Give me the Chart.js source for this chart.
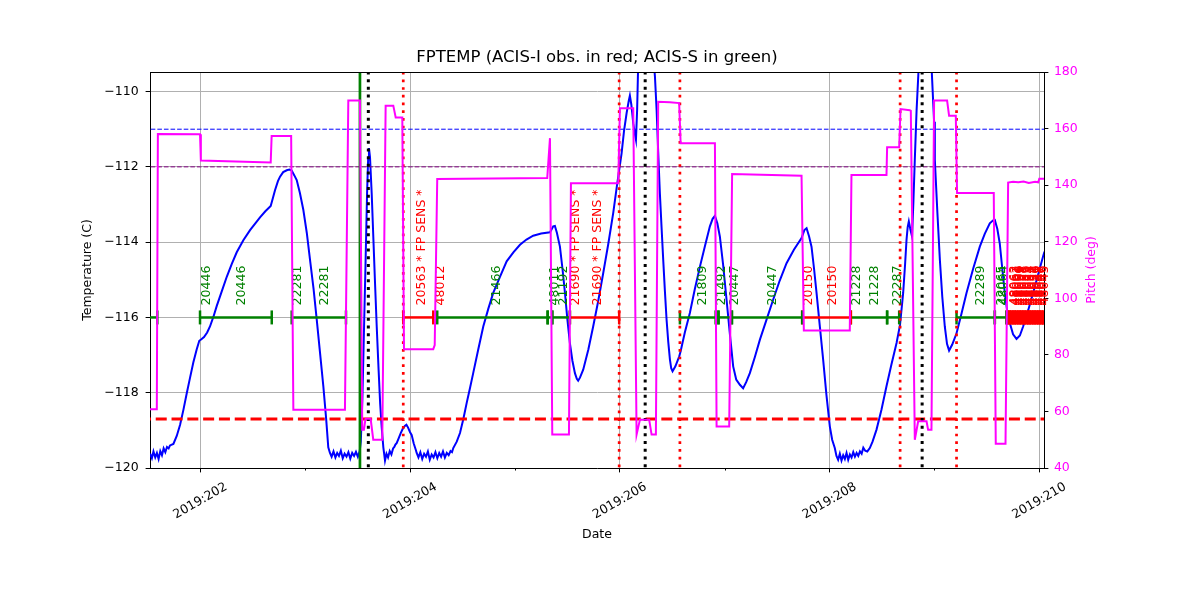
<!DOCTYPE html>
<html>
<head>
<meta charset="utf-8">
<title>FPTEMP</title>
<script src="https://cdn.jsdelivr.net/npm/chart.js@4.4.0/dist/chart.umd.min.js"></script>
<style>
  html, body { margin: 0; padding: 0; background: #fff; }
</style>
</head>
<body>
<canvas id="fptemp" width="1200" height="600"></canvas>
<script>
// time axis in day-of-year 2019
var xMin = 201.520, xMax = 210.045;
var tempMin = -120, tempMax = -109.48;
var pitchMin = 40, pitchMax = 180;
var obsLevel = -116;

// FPTEMP (C)
var tempSeries = [
    [201.521,-119.62],[201.538,-119.74],[201.553,-119.56],[201.570,-119.72],[201.586,-119.60],
    [201.602,-119.76],[201.618,-119.55],[201.634,-119.66],[201.650,-119.48],[201.666,-119.58],
    [201.682,-119.44],[201.698,-119.48],[201.711,-119.40],[201.743,-119.36],[201.775,-119.15],
    [201.807,-118.85],[201.839,-118.45],[201.870,-118.02],[201.902,-117.60],[201.933,-117.20],
    [201.965,-116.85],[201.990,-116.62],[202.010,-116.58],[202.035,-116.52],[202.065,-116.40],
    [202.092,-116.24],[202.125,-115.98],[202.156,-115.70],[202.205,-115.30],[202.252,-114.92],
    [202.300,-114.58],[202.347,-114.27],[202.410,-113.95],[202.474,-113.68],[202.530,-113.48],
    [202.569,-113.34],[202.620,-113.18],[202.671,-113.04],[202.690,-112.85],[202.712,-112.62],
    [202.740,-112.38],[202.760,-112.26],[202.790,-112.14],[202.824,-112.09],[202.850,-112.07],
    [202.871,-112.10],[202.895,-112.22],[202.919,-112.35],[202.950,-112.70],[202.982,-113.14],
    [203.015,-113.75],[203.046,-114.47],[203.080,-115.25],[203.110,-116.06],[203.140,-116.90],
    [203.173,-117.83],[203.200,-118.70],[203.220,-119.45],[203.236,-119.60],[203.252,-119.70],
    [203.270,-119.56],[203.288,-119.72],[203.305,-119.60],[203.322,-119.68],[203.340,-119.54],
    [203.358,-119.74],[203.376,-119.62],[203.394,-119.70],[203.412,-119.58],[203.430,-119.75],
    [203.448,-119.60],[203.466,-119.68],[203.484,-119.57],[203.502,-119.70],[203.520,-119.55],
    [203.530,-119.30],[203.545,-118.20],[203.560,-116.40],[203.575,-114.60],[203.590,-112.70],
    [203.600,-111.80],[203.608,-111.50],[203.618,-111.75],[203.634,-112.70],[203.650,-113.90],
    [203.666,-115.10],[203.682,-116.24],[203.700,-117.40],[203.715,-118.30],[203.729,-118.90],
    [203.745,-119.45],[203.761,-119.80],[203.775,-119.62],[203.790,-119.72],[203.806,-119.55],
    [203.822,-119.64],[203.838,-119.48],[203.850,-119.44],[203.860,-119.38],[203.872,-119.34],
    [203.890,-119.22],[203.910,-119.08],[203.930,-118.96],[203.950,-118.88],[203.965,-118.85],
    [203.980,-118.92],[204.000,-119.05],[204.015,-119.12],[204.035,-119.35],[204.055,-119.52],
    [204.063,-119.60],[204.080,-119.72],[204.098,-119.58],[204.116,-119.76],[204.134,-119.62],
    [204.152,-119.70],[204.170,-119.56],[204.188,-119.78],[204.206,-119.64],[204.224,-119.72],
    [204.242,-119.58],[204.260,-119.74],[204.278,-119.60],[204.296,-119.70],[204.314,-119.56],
    [204.332,-119.72],[204.350,-119.60],[204.368,-119.66],[204.386,-119.55],[204.400,-119.58],
    [204.412,-119.47],[204.445,-119.30],[204.476,-119.07],[204.508,-118.70],[204.540,-118.27],
    [204.571,-117.88],[204.602,-117.48],[204.650,-116.85],[204.698,-116.24],[204.745,-115.78],
    [204.793,-115.35],[204.860,-114.90],[204.921,-114.51],[204.985,-114.27],[205.048,-114.07],
    [205.110,-113.93],[205.174,-113.83],[205.250,-113.77],[205.334,-113.74],[205.350,-113.66],
    [205.365,-113.58],[205.381,-113.57],[205.400,-113.75],[205.429,-114.12],[205.453,-114.70],
    [205.477,-115.35],[205.500,-116.05],[205.524,-116.68],[205.548,-117.15],[205.572,-117.48],
    [205.590,-117.63],[205.603,-117.68],[205.620,-117.60],[205.651,-117.39],[205.700,-116.85],
    [205.746,-116.24],[205.795,-115.55],[205.842,-114.82],[205.890,-114.05],[205.937,-113.23],
    [205.975,-112.45],[206.017,-111.64],[206.040,-111.05],[206.065,-110.57],[206.085,-110.25],
    [206.096,-110.11],[206.110,-110.35],[206.128,-110.84],[206.142,-111.10],[206.154,-111.28],
    [206.165,-110.50],[206.175,-109.30],[206.190,-108.60],[206.215,-108.20],[206.260,-108.20],
    [206.310,-108.70],[206.335,-109.60],[206.351,-110.49],[206.366,-111.60],[206.382,-112.70],
    [206.398,-113.60],[206.414,-114.47],[206.430,-115.30],[206.446,-116.06],[206.462,-116.65],
    [206.478,-117.12],[206.490,-117.35],[206.503,-117.43],[206.530,-117.30],[206.566,-117.04],
    [206.580,-116.90],[206.620,-116.40],[206.668,-115.88],[206.715,-115.25],[206.764,-114.65],
    [206.812,-114.10],[206.859,-113.58],[206.885,-113.38],[206.907,-113.30],[206.930,-113.50],
    [206.954,-113.85],[206.985,-114.60],[207.018,-115.53],[207.050,-116.45],[207.081,-117.30],
    [207.110,-117.65],[207.145,-117.79],[207.176,-117.88],[207.205,-117.72],[207.240,-117.48],
    [207.288,-117.05],[207.336,-116.59],[207.400,-116.05],[207.462,-115.53],[207.525,-115.02],
    [207.590,-114.56],[207.660,-114.20],[207.733,-113.89],[207.760,-113.68],[207.781,-113.63],
    [207.805,-113.85],[207.828,-114.12],[207.852,-114.70],[207.876,-115.35],[207.908,-116.25],
    [207.939,-117.12],[207.970,-118.05],[208.003,-118.90],[208.025,-119.25],[208.050,-119.47],
    [208.066,-119.68],[208.082,-119.78],[208.098,-119.62],[208.114,-119.80],[208.130,-119.66],
    [208.146,-119.76],[208.162,-119.60],[208.178,-119.78],[208.194,-119.64],[208.210,-119.72],
    [208.226,-119.58],[208.242,-119.70],[208.258,-119.60],[208.274,-119.68],[208.290,-119.56],
    [208.306,-119.62],[208.322,-119.46],[208.340,-119.54],[208.360,-119.56],[208.384,-119.47],
    [208.410,-119.30],[208.448,-118.98],[208.495,-118.45],[208.543,-117.83],[208.590,-117.25],
    [208.639,-116.68],[208.672,-116.20],[208.702,-115.35],[208.720,-114.60],[208.734,-113.94],
    [208.745,-113.60],[208.756,-113.45],[208.770,-113.65],[208.787,-113.85],[208.800,-112.90],
    [208.813,-111.81],[208.830,-110.50],[208.851,-109.30],[208.880,-108.20],[208.930,-108.20],
    [208.972,-109.30],[208.997,-110.80],[209.004,-111.81],[209.028,-113.20],[209.052,-114.47],
    [209.075,-115.45],[209.099,-116.24],[209.120,-116.70],[209.140,-116.88],[209.170,-116.72],
    [209.211,-116.42],[209.258,-115.90],[209.306,-115.35],[209.370,-114.70],[209.433,-114.12],
    [209.480,-113.78],[209.528,-113.50],[209.560,-113.42],[209.576,-113.41],[209.600,-113.65],
    [209.623,-114.03],[209.647,-114.70],[209.671,-115.35],[209.695,-115.85],[209.719,-116.15],
    [209.750,-116.45],[209.783,-116.57],[209.815,-116.48],[209.846,-116.24],[209.895,-115.80],
    [209.941,-115.35],[209.990,-114.85],[210.036,-114.38],[210.050,-114.25]
];

// pitch (deg)
var pitchSeries = [
    [201.520,60.8],[201.585,60.8],[201.595,158.1],[201.997,158.0],[202.005,148.7],
    [202.671,148.0],[202.680,157.4],[202.866,157.4],[202.887,60.6],[203.379,60.6],
    [203.411,169.9],[203.522,169.9],[203.544,53.5],[203.560,53.5],[203.575,57.4],
    [203.624,57.4],[203.649,50.0],[203.735,50.0],[203.767,168.1],[203.840,168.1],
    [203.863,163.9],[203.926,163.9],[203.942,82.0],[204.221,82.0],[204.235,83.5],
    [204.259,142.2],[205.308,142.5],[205.334,156.6],[205.356,51.8],[205.515,51.8],
    [205.534,140.7],[205.985,140.7],[206.001,167.2],[206.128,167.2],[206.160,51.8],
    [206.192,57.1],[206.280,57.1],[206.303,51.8],[206.344,51.8],[206.366,169.5],
    [206.478,169.3],[206.566,169.0],[206.580,154.8],[206.907,154.8],[206.923,54.7],
    [207.043,54.7],[207.071,143.9],[207.733,143.3],[207.755,88.6],[208.193,88.6],
    [208.209,143.6],[208.543,143.6],[208.549,153.4],[208.664,153.4],[208.677,166.9],
    [208.765,166.5],[208.775,166.3],[208.813,50.0],[208.845,56.5],[208.925,56.5],
    [208.940,53.5],[208.972,53.5],[208.997,169.9],[209.121,169.9],[209.140,164.5],
    [209.204,164.5],[209.216,137.2],[209.566,137.2],[209.585,48.6],[209.678,48.6],
    [209.703,140.9],[209.750,141.2],[209.800,141.0],[209.850,141.3],[209.900,140.8],
    [209.960,141.2],[209.990,141.0],[210.000,142.3],[210.050,142.3]
];

// FPTEMP limit lines (C)
var planningLimit = -111;
var yellowLimit = -112;
var coldLimit = -118.7;

// vertical event markers (day of year)
var loadStartDays = [203.522];
var perigeeDays = [203.602, 206.242, 208.883];
var radZoneDays = [203.935, 205.994, 206.573, 208.673, 209.211];

// observations: instrument, start, stop
var observations = [
    ['S', 201.450, 201.590], ['S', 201.997, 202.681], ['S', 202.871, 203.389],
    ['I', 203.935, 204.221], ['S', 204.259, 205.312], ['S', 205.312, 205.356],
    ['S', 205.356, 205.524], ['I', 205.524, 205.994], ['S', 206.573, 206.916],
    ['S', 206.916, 206.941], ['S', 206.941, 207.069], ['S', 207.069, 207.739],
    ['I', 207.739, 208.203], ['S', 208.203, 208.549], ['S', 208.549, 208.664],
    ['S', 209.211, 209.576], ['S', 209.576, 209.687],
    ['I', 209.687, 209.703], ['I', 209.703, 209.718], ['I', 209.718, 209.734],
    ['I', 209.734, 209.751], ['I', 209.751, 209.766], ['I', 209.766, 209.782],
    ['I', 209.782, 209.799], ['I', 209.799, 209.815], ['I', 209.815, 209.830],
    ['I', 209.830, 209.846], ['I', 209.846, 209.862], ['I', 209.862, 209.879],
    ['I', 209.879, 209.895], ['I', 209.895, 209.910], ['I', 209.910, 209.926],
    ['I', 209.926, 209.943], ['I', 209.943, 209.958], ['I', 209.958, 209.974],
    ['I', 209.974, 209.990], ['I', 209.990, 210.006], ['I', 210.006, 210.022],
    ['I', 210.022, 210.038], ['I', 210.038, 210.055]
];

// obsid labels: day, text, instrument
var obsLabels = [
    [202.000, '20446', 'S'], [202.335, '20446', 'S'], [202.871, '22281', 'S'],
    [203.131, '22281', 'S'], [204.051, '20563 * FP SENS *', 'I'], [204.233, '48012', 'I'],
    [204.771, '21466', 'S'], [205.324, '48011', 'S'], [205.410, '21192', 'S'],
    [205.524, '21690 * FP SENS *', 'I'], [205.734, '21690 * FP SENS *', 'I'],
    [206.730, '21809', 'S'], [206.911, '21492', 'S'], [207.040, '20447', 'S'],
    [207.402, '20447', 'S'], [207.739, '20150', 'I'], [207.974, '20150', 'I'],
    [208.198, '21228', 'S'], [208.375, '21228', 'S'], [208.594, '22287', 'S'],
    [209.380, '22289', 'S'], [209.581, '22065', 'S'], [209.600, '48064', 'S'],
    [209.703, '48063', 'I'], [209.718, '48062', 'I'], [209.734, '48061', 'I'],
    [209.751, '48060', 'I'], [209.766, '48059', 'I'], [209.782, '48058', 'I'],
    [209.799, '48057', 'I'], [209.815, '48056', 'I'], [209.830, '48055', 'I'],
    [209.846, '48054', 'I'], [209.862, '48053', 'I'], [209.879, '48052', 'I'],
    [209.895, '48051', 'I'], [209.910, '48050', 'I'], [209.926, '48049', 'I'],
    [209.943, '48048', 'I'], [209.958, '48047', 'I'], [209.974, '48046', 'I'],
    [209.990, '48045', 'I']
];

var instColors = { I: '#ff0000', S: '#008000' };
var fontFamily = '"DejaVu Sans", sans-serif';

function toPoints(series) {
    return series.map(function(p) { return { x: p[0], y: p[1] }; });
}

var datasets = [];

datasets.push({
    label: 'Pitch', yAxisID: 'y2', order: 0,
    data: toPoints(pitchSeries),
    borderColor: '#ff00ff', borderWidth: 2, pointRadius: 0, tension: 0
});

function vline(day, color, width, dash) {
    datasets.push({
        yAxisID: 'y', order: 1,
        data: [{ x: day, y: tempMin - 1 }, { x: day, y: tempMax + 1 }],
        borderColor: color, borderWidth: width, borderDash: dash, pointRadius: 0
    });
}
loadStartDays.forEach(function(d) { vline(d, '#008000', 2.7, []); });
perigeeDays.forEach(function(d) { vline(d, '#000000', 3, [3, 4.7]); });
radZoneDays.forEach(function(d) { vline(d, '#ff0000', 2.7, [2.7, 5]); });

observations.forEach(function(o) {
    var c = instColors[o[0]];
    datasets.push({
        yAxisID: 'y', order: 2,
        data: [{ x: o[1], y: obsLevel }, { x: o[2], y: obsLevel }],
        borderColor: c, borderWidth: 2.5,
        pointStyle: 'line', pointRotation: 90, pointRadius: 7,
        pointBorderColor: c, pointBorderWidth: 2.5
    });
});

function hline(value, color, width, dash) {
    datasets.push({
        yAxisID: 'y', order: 3,
        data: [{ x: xMin - 1, y: value }, { x: xMax + 1, y: value }],
        borderColor: color, borderWidth: width, borderDash: dash, pointRadius: 0
    });
}
hline(planningLimit, '#0000ff', 1, [4.6, 2]);
hline(yellowLimit, '#800080', 1, [4.6, 2]);
hline(coldLimit, '#ff0000', 3, [11, 4.8]);

datasets.push({
    label: 'FPTEMP', yAxisID: 'y', order: 4,
    data: toPoints(tempSeries),
    borderColor: '#0000ff', borderWidth: 2, pointRadius: 0, tension: 0
});

function drawObsLabels(chart) {
    var ctx = chart.ctx;
    var x = chart.scales.x, y = chart.scales.y;
    var base = y.getPixelForValue(obsLevel) - 12;
    ctx.save();
    ctx.font = '12.5px ' + fontFamily;
    ctx.textAlign = 'left';
    ctx.textBaseline = 'top';
    obsLabels.forEach(function(l) {
        ctx.save();
        ctx.translate(x.getPixelForValue(l[0]), base);
        ctx.rotate(-Math.PI / 2);
        ctx.fillStyle = instColors[l[2]];
        ctx.fillText(l[1], 0, 0);
        ctx.restore();
    });
    ctx.restore();
}

var decorations = {
    id: 'decorations',
    beforeDatasetDraw: function(chart, args) {
        // labels sit under the pitch curve, like the twin axes in the original
        if (chart.data.datasets[args.index].label === 'Pitch') {
            drawObsLabels(chart);
        }
    },
    afterDraw: function(chart) {
        var ctx = chart.ctx, a = chart.chartArea, x = chart.scales.x;
        ctx.save();
        ctx.strokeStyle = '#000';
        ctx.lineWidth = 1;
        ctx.beginPath();
        ctx.moveTo(a.left, Math.round(a.top) + 0.5);
        ctx.lineTo(a.right, Math.round(a.top) + 0.5);
        ctx.stroke();

        x.ticks.forEach(function(t) {
            var px = Math.round(x.getPixelForValue(t.value)) + 0.5;
            if (t.value % 2 !== 0) {
                ctx.beginPath();
                ctx.moveTo(px, a.bottom);
                ctx.lineTo(px, a.bottom + 2.5);
                ctx.stroke();
            }
        });

        ctx.fillStyle = '#000';
        ctx.font = '12.5px ' + fontFamily;
        ctx.textAlign = 'center';
        ctx.textBaseline = 'middle';
        x.ticks.forEach(function(t) {
            if (t.value % 2 === 0) {
                ctx.save();
                ctx.translate(x.getPixelForValue(t.value), a.bottom + 33);
                ctx.rotate(-Math.PI / 6);
                ctx.fillText('2019:' + t.value, 0, 0);
                ctx.restore();
            }
        });

        ctx.font = '16.5px ' + fontFamily;
        ctx.fillText('FPTEMP (ACIS-I obs. in red; ACIS-S in green)', (a.left + a.right) / 2, 58);

        ctx.save();
        ctx.translate(1092, (a.top + a.bottom) / 2);
        ctx.rotate(-Math.PI / 2);
        ctx.fillStyle = '#ff00ff';
        ctx.font = '12.5px ' + fontFamily;
        ctx.fillText('Pitch (deg)', 0, 0);
        ctx.restore();
        ctx.restore();
    }
};

Chart.defaults.font.family = fontFamily;
Chart.defaults.font.size = 12.5;
Chart.defaults.color = '#000';

var chart = new Chart(document.getElementById('fptemp').getContext('2d'), {
    type: 'line',
    data: { datasets: datasets },
    plugins: [decorations],
    options: {
        responsive: false,
        animation: false,
        devicePixelRatio: 1,
        events: [],
        layout: { padding: { top: 72, left: 0, right: 0, bottom: 0 } },
        plugins: { legend: { display: false }, tooltip: { enabled: false }, title: { display: false } },
        scales: {
            x: {
                type: 'linear', position: 'bottom', min: xMin, max: xMax,
                afterFit: function(s) { s.height = 132; },
                ticks: { display: false, stepSize: 1, includeBounds: false, autoSkip: false },
                grid: {
                    color: function(c) { return c.tick && c.tick.value % 2 === 0 ? '#b0b0b0' : 'rgba(0,0,0,0)'; },
                    tickColor: function(c) { return c.tick && c.tick.value % 2 === 0 ? '#000' : 'rgba(0,0,0,0)'; },
                    tickLength: 4.4, lineWidth: 1
                },
                border: { color: '#000', width: 1 },
                title: { display: true, text: 'Date', color: '#000', padding: { top: 0, bottom: 57.5 } }
            },
            y: {
                type: 'linear', position: 'left', min: tempMin, max: tempMax,
                afterFit: function(s) { s.width = 150; },
                ticks: {
                    stepSize: 2, includeBounds: false, padding: 7, color: '#000',
                    callback: function(v) { return String(v).replace('-', '\u2212'); }
                },
                grid: { color: '#b0b0b0', tickColor: '#000', tickLength: 4.4, lineWidth: 1 },
                border: { color: '#000', width: 1 },
                title: { display: true, text: 'Temperature (C)', color: '#000', padding: { top: 80.5, bottom: 0 } }
            },
            y2: {
                type: 'linear', position: 'right', min: pitchMin, max: pitchMax,
                afterFit: function(s) { s.width = 156; },
                ticks: { stepSize: 20, includeBounds: false, padding: 5.5, color: '#ff00ff' },
                grid: { drawOnChartArea: false, tickColor: '#000', tickLength: 4.4 },
                border: { color: '#000', width: 1 }
            }
        }
    }
});
</script>
</body>
</html>
